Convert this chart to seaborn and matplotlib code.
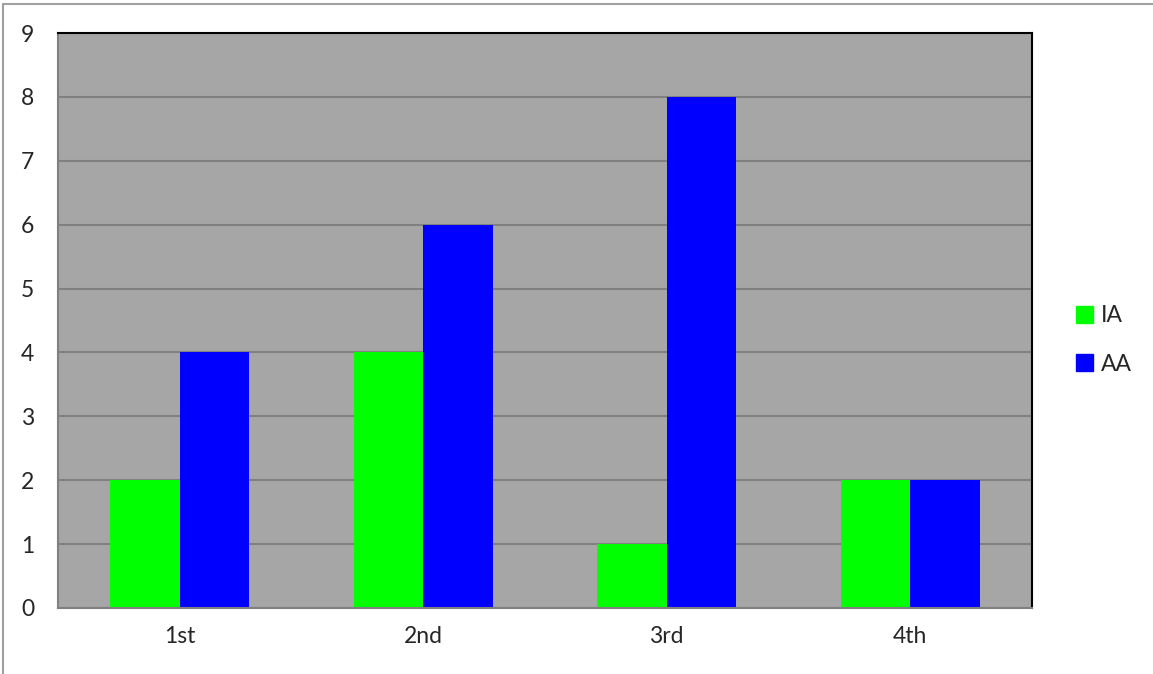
import pandas as pd
import matplotlib
matplotlib.use("Agg")
import matplotlib.pyplot as plt
import seaborn as sns
from matplotlib.patches import Rectangle
from matplotlib.lines import Line2D

categories = ["1st", "2nd", "3rd", "4th"]
ia_values = [2, 4, 1, 2]
aa_values = [4, 6, 8, 2]
series_names = ["IA", "AA"]
series_colors = {"IA": "#00FF00", "AA": "#0000FF"}

df = pd.DataFrame({
    "quarter": categories * 2,
    "value": ia_values + aa_values,
    "series": [series_names[0]] * len(categories) + [series_names[1]] * len(categories),
})

sns.set_style("white")
plt.rcParams["font.family"] = ["Lato", "DejaVu Sans"]

fig = plt.figure(figsize=(11.53, 6.74), dpi=100)
ax = fig.add_axes([58 / 1153, 66 / 674, 974 / 1153, 575 / 674])
ax.set_facecolor("#A6A6A6")

sns.barplot(data=df, x="quarter", y="value", hue="series", palette=series_colors,
            width=2 / 3.5, saturation=1, linewidth=0, ax=ax, legend=False)

# gridlines & axes
ax.set_ylim(0, 9)
ax.set_yticks(range(0, 10))
ax.set_xlim(-0.5, 3.5)
ax.yaxis.grid(True, color="#808080", linewidth=1.5)
ax.set_axisbelow(True)
ax.set_xlabel("")
ax.set_ylabel("")
ax.set_xticks(range(4))
ax.set_xticklabels(categories)
ax.set_xticks([0.5, 1.5, 2.5, 3.5, -0.5], minor=True)
ax.tick_params(axis="x", which="major", length=0, pad=13, labelsize=16.5)
ax.tick_params(axis="x", which="minor", length=6, color="#808080", width=1.2)
ax.tick_params(axis="y", length=6, color="#808080", width=1.2, labelsize=16.5, pad=11)
for side in ["left", "bottom"]:
    ax.spines[side].set_color("#808080")
    ax.spines[side].set_linewidth(1.5)
for side in ["top", "right"]:
    ax.spines[side].set_color("black")
    ax.spines[side].set_linewidth(1.5)
    ax.spines[side].set_visible(True)

# legend outside on the right
handles = [Rectangle((0, 0), 1, 1, color=series_colors[s]) for s in series_names]
fig.legend(handles, series_names, loc="center left", bbox_to_anchor=(1055 / 1153, 1 - 340 / 674),
           frameon=False, fontsize=16.5, handlelength=0.75, handleheight=0.75,
           handletextpad=0.35, labelspacing=1.2)

# outer chart border (only left and top edges visible)
fig.lines.append(Line2D([2.5 / 1153, 2.5 / 1153], [0, 1 - 3.5 / 674], transform=fig.transFigure,
                        color="#A0A0A0", linewidth=1.5))
fig.lines.append(Line2D([2.5 / 1153, 1], [1 - 3.5 / 674, 1 - 3.5 / 674], transform=fig.transFigure,
                        color="#A0A0A0", linewidth=1.5))

fig.savefig("out.png", dpi=100)
